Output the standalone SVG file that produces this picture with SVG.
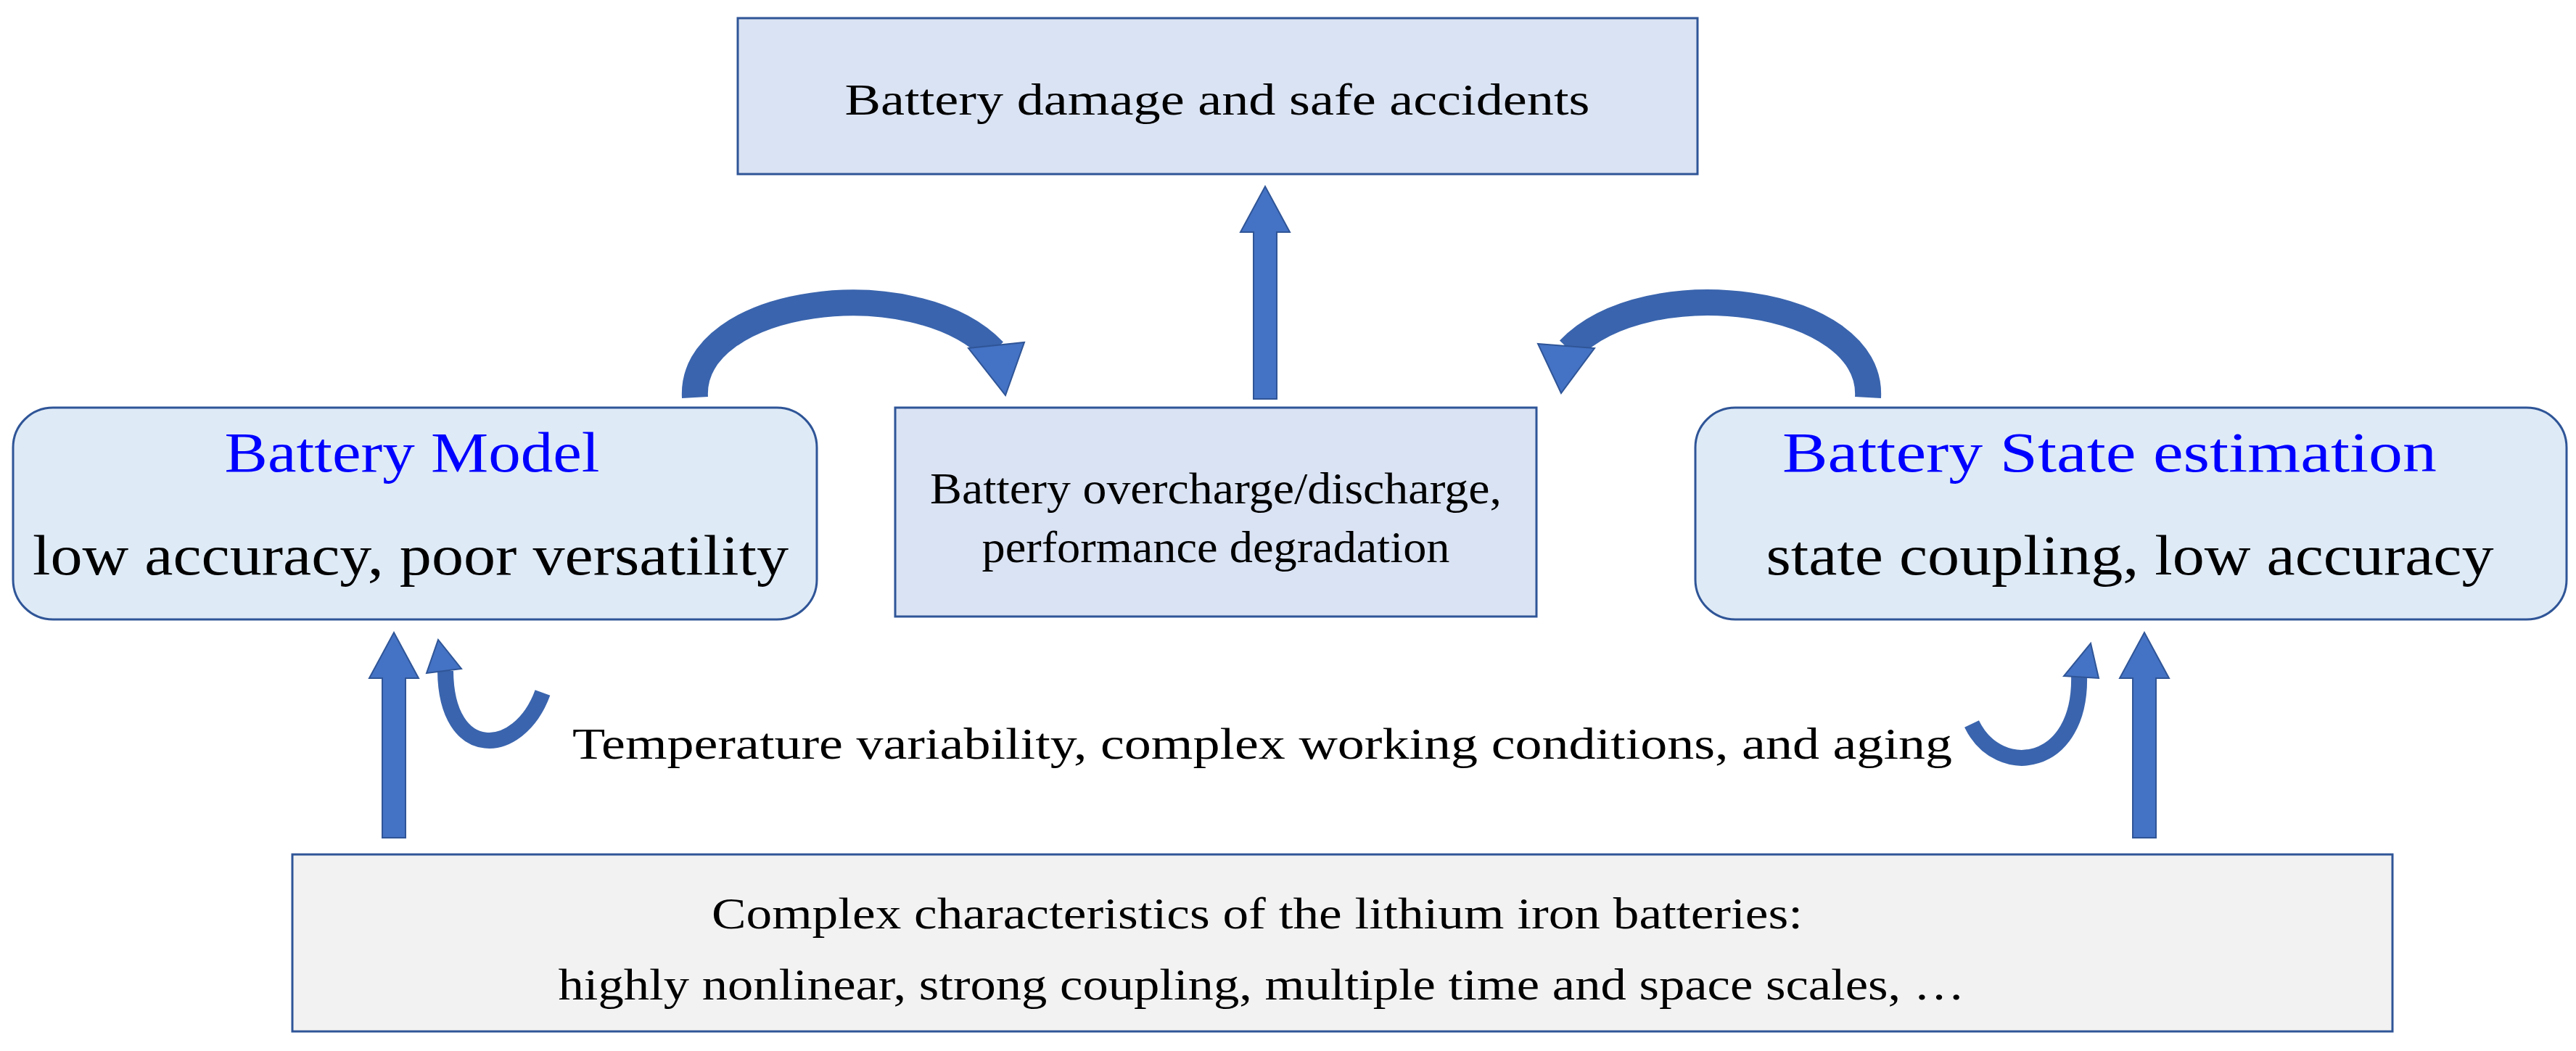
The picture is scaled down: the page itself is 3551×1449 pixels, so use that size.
<svg xmlns="http://www.w3.org/2000/svg" width="3551" height="1449" viewBox="0 0 3551 1449">
<style>
.box{fill:#dae3f3;stroke:#2f5597;stroke-width:3}
.rbox{fill:#deeaf6;stroke:#2f5597;stroke-width:3}
.gbox{fill:#f2f2f2;stroke:#2f5597;stroke-width:3}
.t{font-family:"Liberation Serif","Times New Roman",serif;font-size:62px;fill:#000;text-anchor:middle}
.big{font-size:78px}
.blue{fill:#0000ff}
.arr{fill:#4472c4;stroke:#2f5597;stroke-width:2}
.curve{fill:none;stroke:#3a64ad;stroke-width:36}
.curve2{fill:none;stroke:#3a64ad;stroke-width:22}
.head{fill:#4472c4;stroke:#2f5597;stroke-width:2}
</style>
<rect width="3551" height="1449" fill="#fff"/>
<g id="top">
<rect class="box" x="1017" y="25" width="1323" height="215"/>
<text class="t" x="1678" y="158" textLength="1027" lengthAdjust="spacingAndGlyphs">Battery damage and safe accidents</text>
</g>
<g id="middle">
<rect class="box" x="1234" y="562" width="884" height="288"/>
<text class="t" x="1676" y="694" textLength="788" lengthAdjust="spacingAndGlyphs">Battery overcharge/discharge,</text>
<text class="t" x="1676" y="775" textLength="645" lengthAdjust="spacingAndGlyphs">performance degradation</text>
</g>
<g id="model">
<rect class="rbox" x="18" y="562" width="1108" height="292" rx="55"/>
<text class="t big blue" x="568" y="650" textLength="517" lengthAdjust="spacingAndGlyphs">Battery Model</text>
<text class="t big" x="566" y="792" textLength="1042" lengthAdjust="spacingAndGlyphs">low accuracy, poor versatility</text>
</g>
<g id="state">
<rect class="rbox" x="2337" y="562" width="1201" height="292" rx="55"/>
<text class="t big blue" x="2908" y="650" textLength="902" lengthAdjust="spacingAndGlyphs">Battery State estimation</text>
<text class="t big" x="2936" y="792" textLength="1003" lengthAdjust="spacingAndGlyphs">state coupling, low accuracy</text>
</g>
<g id="chars">
<rect class="gbox" x="403" y="1178" width="2895" height="244"/>
<text class="t" x="1733" y="1280" textLength="1504" lengthAdjust="spacingAndGlyphs">Complex characteristics of the lithium iron batteries:</text>
<text class="t" x="1739" y="1378" textLength="1939" lengthAdjust="spacingAndGlyphs">highly nonlinear, strong coupling, multiple time and space scales, …</text>
</g>
<g id="factors">
<text class="t" x="1740" y="1046" textLength="1902" lengthAdjust="spacingAndGlyphs">Temperature variability, complex working conditions, and aging</text>
</g>
<g id="connectors">
<polygon class="arr" points="1728,550 1760,550 1760,320 1778,320 1744,257 1710,320 1728,320"/>
<polygon class="arr" points="527,1155 559,1155 559,935 577,935 543,872 509,935 527,935"/>
<polygon class="arr" points="2940,1155 2972,1155 2972,935 2990,935 2956,872 2922,935 2940,935"/>
<path class="curve" d="M958 548 C950 410 1260 370 1370 484"/>
<polygon class="head" points="1335,480 1412,472 1386,545"/>
<path class="curve" d="M2575 548 C2583 410 2270 370 2163 482"/>
<polygon class="head" points="2120,474 2198,480 2152,542"/>
<path class="curve2" d="M748 955 C715 1045 615 1050 614 925"/>
<polygon class="head" points="588,928 636,922 604,882"/>
<path class="curve2" d="M2718 998 C2755 1075 2870 1060 2866 930"/>
<polygon class="head" points="2845,932 2893,935 2882,887"/>
</g>
</svg>
